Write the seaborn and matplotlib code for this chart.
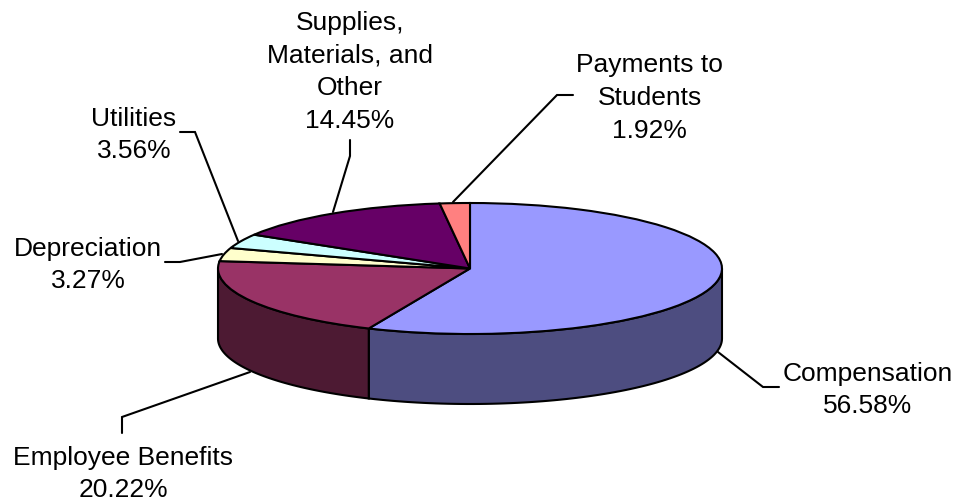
"""3D style pie of expense shares, drawn with a flattened ax.pie."""
import matplotlib

matplotlib.use("Agg")
import matplotlib.pyplot as plt
import numpy as np
import seaborn as sns

CATEGORIES = ["Compensation", "Employee Benefits", "Depreciation", "Utilities", "Supplies, Materials, and Other", "Payments to Students"]
SHARES = [56.58, 20.22, 3.27, 3.56, 14.45, 1.92]
TOP_COLORS = ["#9999FF", "#993366", "#FFFFCC", "#CCFFFF", "#660066", "#FF8080"]
SIDE_COLORS = ["#4D4D80", "#4D1A33", "#808066", "#668080", "#330033", "#804040"]
LABELS = ["Compensation\n56.58%", "Employee Benefits\n20.22%", "Depreciation\n3.27%", "Utilities\n3.56%", "Supplies,\nMaterials, and\nOther\n14.45%", "Payments to\nStudents\n1.92%"]

W, H = 959, 502
CX, CY, RX, RY, DEPTH = 470, 269.5, 252, 65.5, 70

LABEL_POS = [(868, 390), (123, 474), (88, 265), (134, 135), (350, 72), (649.5, 98)]
LEADERS = [
    [(718, 353), (763, 388), (779, 388)],
    [(250, 373), (122, 418), (122, 434)],
    [(222, 255), (180, 263), (165, 263)],
    [(238, 242), (195, 133), (180, 133)],
    [(333, 213), (350, 157), (350, 141)],
    [(453, 203), (557, 96), (573, 96)],
]


def to_unit(x, y):
    return (x - CX) / RX, (CY - y) / RY


sns.set_theme(style="white")
plt.rcParams["font.family"] = ["Liberation Sans", "DejaVu Sans"]

fig = plt.figure(figsize=(W / 100, H / 100), dpi=100)
ax = fig.add_axes([0, 0, 1, 1])

edges = np.cumsum([0] + SHARES) / sum(SHARES) * 2 * np.pi
drop = DEPTH / RY

# walls first, only the front half of the rim shows
for i in range(len(SHARES)):
    a0, a1 = max(edges[i], np.pi / 2), min(edges[i + 1], 3 * np.pi / 2)
    if a1 <= a0:
        continue
    t = np.linspace(a0, a1, 80)
    x, y = np.sin(t), np.cos(t)
    ax.fill(np.r_[x, x[::-1]], np.r_[y, y[::-1] - drop], facecolor=SIDE_COLORS[i], edgecolor="black", linewidth=1.5)

ax.pie(SHARES, colors=TOP_COLORS, startangle=90, counterclock=False, radius=1, center=(0, 0),
       wedgeprops={"edgecolor": "black", "linewidth": 1.5})
ax.set_aspect("auto")
ax.set_xlim(-CX / RX, (W - CX) / RX)
ax.set_ylim((CY - H) / RY, CY / RY)
ax.axis("off")

for name, text, pos, leader in zip(CATEGORIES, LABELS, LABEL_POS, LEADERS):
    ux, uy = to_unit(*pos)
    ax.text(ux, uy, text, ha="center", va="center", fontsize=19, color="black", linespacing=1.46)
    pts = np.array([to_unit(*p) for p in leader])
    ax.plot(pts[:, 0], pts[:, 1], color="black", linewidth=1.5, solid_joinstyle="miter")

fig.savefig("out.png", dpi=100)
